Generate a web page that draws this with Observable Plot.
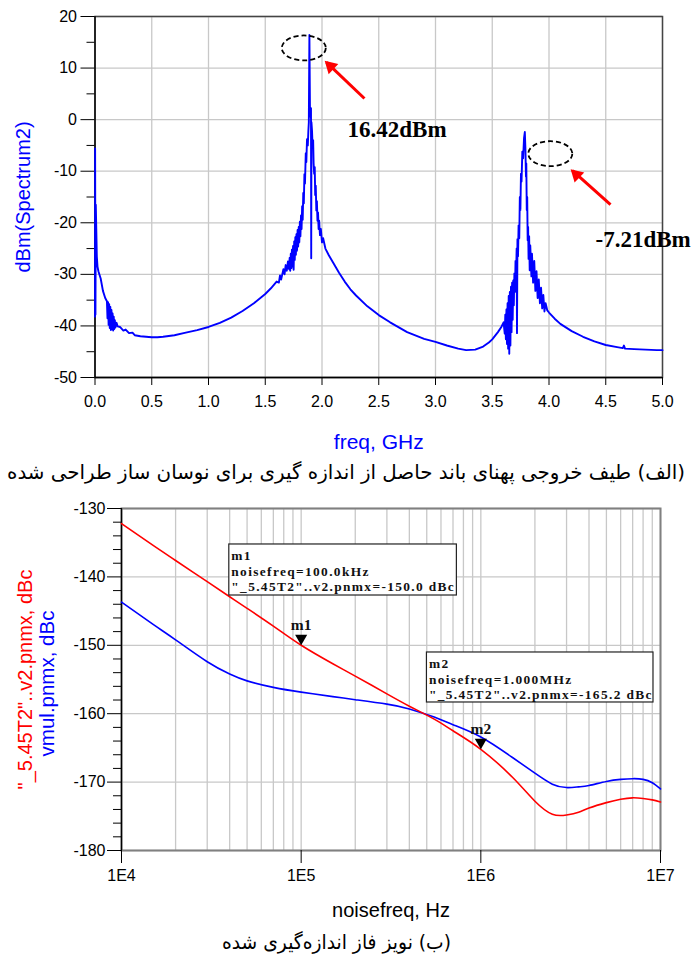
<!DOCTYPE html>
<html>
<head>
<meta charset="utf-8">
<script src="https://cdn.jsdelivr.net/npm/d3@7"></script>
<script src="https://cdn.jsdelivr.net/npm/@observablehq/plot@0.6"></script>
<style>
  body { margin: 0; background: #fff; }
  #page { position: relative; width: 693px; height: 958px; overflow: hidden; background: #fff; }
  .panel { position: absolute; left: 0; }
  .caption { position: absolute; left: 0; width: 693px; text-align: center; direction: rtl;
             font-family: "DejaVu Sans", sans-serif; color: #000; white-space: nowrap; line-height: 24px; font-size: 20px; }
  .caption span { display: inline-block; transform-origin: 50% 50%; }
  /* marker readouts are printed with wide tracking */
  #phase g[font-size="13.4"] { letter-spacing: 1.35px; }
</style>
</head>
<body>
<div id="page">
  <div id="spectrum" class="panel" style="top:0px"></div>
  <div class="caption" id="cap1" style="top:460px" data-width="678"><span>(الف) طیف خروجی پهنای باند حاصل از اندازه گیری برای نوسان ساز طراحی شده</span></div>
  <div id="phase" class="panel" style="top:490px"></div>
  <div class="caption" id="cap2" style="top:930px;left:-10px" data-width="229"><span>(ب) نویز فاز اندازه‌گیری شده</span></div>
</div>
<script>
// ---- Output spectrum (GHz, dBm) ----
const spectrumFreqGHz = [
  0.000, 0.001, 0.004, 0.007, 0.012, 0.016, 0.022, 0.030, 0.050, 0.070, 0.090, 0.105,
  0.110, 0.115, 0.120, 0.125, 0.130, 0.135, 0.140, 0.145, 0.150, 0.155, 0.160, 0.165,
  0.170, 0.175, 0.180, 0.190, 0.200, 0.220, 0.250, 0.270, 0.300, 0.330, 0.350, 0.400,
  0.450, 0.500, 0.550, 0.600, 0.700, 0.800, 0.900, 1.000, 1.100, 1.200, 1.300, 1.400,
  1.500, 1.550, 1.600, 1.620, 1.630, 1.640, 1.650, 1.660, 1.670, 1.680, 1.690, 1.700,
  1.710, 1.715, 1.720, 1.725, 1.730, 1.735, 1.740, 1.745, 1.750, 1.755, 1.760, 1.765,
  1.770, 1.775, 1.780, 1.785, 1.790, 1.795, 1.800, 1.805, 1.810, 1.815, 1.820, 1.825,
  1.830, 1.835, 1.840, 1.845, 1.850, 1.857, 1.862, 1.868, 1.875, 1.880, 1.884, 1.889,
  1.894, 1.899, 1.903, 1.905, 1.907, 1.912, 1.917, 1.922, 1.926, 1.931, 1.936, 1.940,
  1.945, 1.950, 1.955, 1.960, 1.965, 1.970, 1.975, 1.982, 1.990, 2.000, 2.010, 2.030,
  2.060, 2.100, 2.150, 2.200, 2.250, 2.300, 2.400, 2.500, 2.600, 2.750, 2.900, 3.000,
  3.100, 3.200, 3.270, 3.350, 3.420, 3.470, 3.500, 3.550, 3.580, 3.600, 3.610, 3.615,
  3.620, 3.625, 3.630, 3.635, 3.640, 3.645, 3.650, 3.655, 3.660, 3.665, 3.670, 3.675,
  3.680, 3.685, 3.690, 3.695, 3.700, 3.705, 3.710, 3.715, 3.718, 3.722, 3.727, 3.732,
  3.738, 3.743, 3.748, 3.753, 3.758, 3.765, 3.772, 3.780, 3.787, 3.792, 3.797, 3.800,
  3.804, 3.808, 3.812, 3.816, 3.820, 3.825, 3.830, 3.835, 3.845, 3.850, 3.860, 3.870,
  3.880, 3.890, 3.900, 3.910, 3.920, 3.930, 3.940, 3.950, 3.960, 3.970, 3.985, 4.000,
  4.050, 4.100, 4.200, 4.300, 4.400, 4.500, 4.600, 4.650, 4.660, 4.670, 4.750, 4.850,
  4.950, 5.000
];
const spectrumDbm = [
  -38.2, -5.6, -37.8, -16.5, -22.0, -26.5, -28.5, -29.4, -30.8, -33.2, -34.6, -35.2,
  -38.5, -35.4, -39.8, -35.8, -40.4, -36.3, -40.8, -36.9, -40.6, -37.6, -40.9, -38.2,
  -40.6, -38.9, -40.3, -39.4, -40.1, -40.2, -40.9, -40.7, -41.4, -41.3, -41.8, -42.0,
  -42.1, -42.2, -42.2, -42.1, -41.8, -41.3, -40.8, -40.2, -39.4, -38.4, -37.1, -35.6,
  -33.8, -32.7, -31.4, -31.6, -30.2, -31.0, -30.0, -29.0, -30.0, -28.2, -29.3, -27.5,
  -29.0, -26.8, -29.3, -26.0, -28.8, -25.2, -28.5, -24.5, -29.1, -23.6, -27.2, -22.8,
  -26.2, -22.2, -25.4, -21.4, -24.6, -20.8, -23.8, -19.8, -22.6, -18.6, -21.2, -16.8,
  -19.4, -14.2, -16.2, -10.6, -12.4, -6.5, -8.2, -3.8, -5.0, -2.1, -0.5, 16.42,
  1.8, 0.6, 2.2, -26.9, -0.5, -2.1, -5.2, -4.0, -8.4, -10.5, -9.2, -14.6,
  -12.8, -17.6, -15.8, -19.6, -18.0, -21.2, -19.6, -22.4, -21.2, -23.8, -23.0, -25.0,
  -26.3, -27.8, -29.7, -31.4, -32.9, -34.1, -36.2, -37.9, -39.3, -41.2, -42.5, -43.1,
  -43.8, -44.4, -44.7, -44.6, -44.0, -43.2, -42.6, -41.2, -40.2, -39.3, -41.5, -37.8,
  -42.6, -36.8, -43.5, -35.6, -44.4, -34.2, -45.4, -33.4, -43.8, -32.4, -41.2, -31.6,
  -38.8, -31.2, -36.0, -29.8, -33.4, -27.4, -30.2, -25.0, -41.4, -23.2, -26.5, -20.5,
  -23.0, -15.0, -17.5, -10.5, -12.0, -6.2, -7.5, -3.6, -2.4, -5.5, -11.0, -8.5,
  -17.5, -15.0, -23.4, -20.8, -27.0, -22.6, -29.2, -24.4, -30.4, -26.0, -31.6, -27.4,
  -33.2, -29.4, -34.6, -31.0, -35.6, -32.6, -36.6, -34.0, -37.2, -35.6, -37.0, -37.4,
  -38.6, -39.6, -41.0, -42.1, -43.0, -43.7, -44.1, -44.3, -43.8, -44.4, -44.5, -44.6,
  -44.7, -44.7
];
const spectrumXTicks = [0, 0.5, 1, 1.5, 2, 2.5, 3, 3.5, 4, 4.5, 5];
const spectrumYTicks = [-50, -40, -30, -20, -10, 0, 10, 20];
const spectrumYMinor = [-45, -35, -25, -15, -5, 5, 15];

// Peak call-outs: value label, text anchor, arrow tail and arrow tip (GHz, dBm)
const peakLabels = ["16.42dBm", "-7.21dBm"];
const peakLabelFreq = [2.225, 4.41];
const peakLabelDbm = [-2.0, -23.2];
const arrowTailFreq = [2.374, 4.542];
const arrowTailDbm = [4.1, -16.5];
const arrowTipFreq = [2.04, 4.207];
const arrowTipDbm = [11.1, -9.9];
// Dashed rings around the two tones (centre in GHz / dBm)
const ringFreq = [1.844, 4.016];
const ringDbm = [13.8, -6.7];

// ---- Phase noise (Hz, dBc) ----
const noiseFreqHz = [1e4, 1.5e4, 2e4, 3e4, 4e4, 5e4, 7e4, 1e5, 1.5e5, 2e5, 3e5, 4e5, 5.5e5,
                     7e5, 1e6, 1.5e6, 2e6, 2.5e6, 3e6, 3.5e6, 4e6, 5e6, 6e6, 7e6, 8e6, 9e6, 1e7];
const pnmxT2 = [-132.2, -135.4, -137.6, -140.7, -142.9, -144.6, -147.2, -150.0, -152.7, -154.5,
                -157.1, -158.9, -160.8, -162.5, -165.2, -169.3, -172.8, -174.7, -174.8, -174.4,
                -173.8, -173.0, -172.5, -172.3, -172.4, -172.6, -172.9];
const pnmxVmul = [-143.7, -146.95, -149.2, -152.4, -154.2, -155.2, -156.15, -156.85, -157.5, -157.95,
                  -158.6, -159.3, -160.5, -161.6, -163.4, -166.4, -168.7, -170.3, -170.8, -170.7,
                  -170.5, -169.9, -169.6, -169.5, -169.6, -170.1, -171.0];
const noiseXTicks = [1e4, 1e5, 1e6, 1e7];
const noiseYTicks = [-180, -170, -160, -150, -140, -130];
const noiseYMinor = d3.range(-178, -130, 2).filter(v => v % 10 !== 0);
const noiseGridX = [];
for (const decade of [1e4, 1e5, 1e6]) for (let k = 1; k <= 9; k++) noiseGridX.push(k * decade);
noiseGridX.push(1e7);

// Markers m1, m2 and their readout boxes
const markerNames = ["m1", "m2"];
const markerFreq = [1e5, 1e6];
const markerValue = [-150.0, -165.2];
const markerFreqText = ["100.0kHz", "1.000MHz"];
const boxFreq1 = [39811, 501187];
const boxFreq2 = [735640, 9140000];
const boxTop = [-135.26, -151.05];
const boxBottom = [-142.72, -158.36];

// ---------- Spectrum panel ----------
const spectrum = spectrumFreqGHz.map((f, i) => ({f, p: spectrumDbm[i]}));
const callouts = peakLabels.map((t, i) => ({
  t, lf: peakLabelFreq[i], lp: peakLabelDbm[i],
  x1: arrowTailFreq[i], y1: arrowTailDbm[i], x2: arrowTipFreq[i], y2: arrowTipDbm[i]
}));
const gridColor = "#c8c8c8";
const serif = "'Liberation Serif', 'Times New Roman', serif";

const spectrumChart = Plot.plot({
  width: 693, height: 455,
  marginTop: 16, marginLeft: 94.5, marginRight: 31, marginBottom: 78,
  style: {fontFamily: "'Liberation Sans', Arial, sans-serif", fontSize: "16px", color: "#000", background: "#fff", overflow: "visible"},
  x: {domain: [0, 5]},
  y: {domain: [-50, 20]},
  marks: [
    Plot.gridX(spectrumXTicks, {stroke: gridColor, strokeOpacity: 1, strokeWidth: 1.3}),
    Plot.gridY(spectrumYTicks, {stroke: gridColor, strokeOpacity: 1, strokeWidth: 1.3}),
    Plot.frame({stroke: "#444", strokeWidth: 1.5}),
    Plot.ruleX([0], {stroke: "#000", strokeWidth: 1.3}),
    Plot.ruleY([-50], {stroke: "#000", strokeWidth: 1.3}),
    Plot.axisY(spectrumYTicks, {tickSize: 14, tickPadding: 4, tickFormat: d => String(d), fontSize: 16, label: null}),
    Plot.axisY(spectrumYMinor, {tickSize: 8, tickFormat: () => "", label: null}),
    Plot.axisX(spectrumXTicks, {tickSize: 8, tickPadding: 10, tickFormat: d3.format(".1f"), fontSize: 16, label: null}),
    Plot.line(spectrum, {x: "f", y: "p", stroke: "#0000ff", strokeWidth: 1.9}),
    Plot.link(callouts, {x1: "x1", y1: "y1", x2: "x2", y2: "y2", stroke: "#ff0000", strokeWidth: 3}),
    Plot.dot(callouts, {x: "x2", y: "y2", symbol: "triangle", r: 5.2, rotate: -46.5, fill: "#ff0000", stroke: null, dx: 4, dy: 4}),
    Plot.text(callouts, {x: "lf", y: "lp", text: "t", textAnchor: "start", lineAnchor: "middle", fontFamily: serif,
                         fontWeight: "bold", fontSize: 23, fill: "#000"}),
    Plot.text(["dBm(Spectrum2)"], {text: d => d, frameAnchor: "left", textAnchor: "middle", lineAnchor: "middle",
                                   rotate: -90, dx: -71, fill: "#0000ff", fontSize: 20}),
    Plot.text(["freq, GHz"], {text: d => d, frameAnchor: "bottom", textAnchor: "middle", lineAnchor: "middle",
                              dy: 65, fill: "#0000ff", fontSize: 21})
  ]
});
document.getElementById("spectrum").appendChild(spectrumChart);

// dashed rings drawn through the chart's own scales
{
  const sx = spectrumChart.scale("x"), sy = spectrumChart.scale("y");
  d3.select(spectrumChart).append("g").selectAll("ellipse")
    .data(ringFreq.map((f, i) => ({f, p: ringDbm[i]})))
    .join("ellipse")
    .attr("cx", d => sx.apply(d.f)).attr("cy", d => sy.apply(d.p))
    .attr("rx", 22).attr("ry", 12.5)
    .attr("fill", "none").attr("stroke", "#000").attr("stroke-width", 1.8).attr("stroke-dasharray", "5,3");
}

// ---------- Phase-noise panel ----------
const noiseRows = noiseFreqHz.flatMap((f, i) => [
  {f, v: pnmxT2[i], s: "t2"},
  {f, v: pnmxVmul[i], s: "vmul"}
]);
const markers = markerNames.map((m, i) => ({
  m, f: markerFreq[i], v: markerValue[i],
  x1: boxFreq1[i], x2: boxFreq2[i], y1: boxTop[i], y2: boxBottom[i],
  readout: `${m}\nnoisefreq=${markerFreqText[i]}\n"_5.45T2"..v2.pnmx=${markerValue[i].toFixed(1)} dBc`
}));

const phaseChart = Plot.plot({
  width: 693, height: 440,
  marginTop: 18, marginLeft: 121, marginRight: 33, marginBottom: 80,
  style: {fontFamily: "'Liberation Sans', Arial, sans-serif", fontSize: "16px", color: "#000", background: "#fff", overflow: "visible"},
  x: {type: "log", domain: [1e4, 1e7]},
  y: {domain: [-180, -130]},
  marks: [
    Plot.gridX(noiseGridX, {stroke: gridColor, strokeOpacity: 1, strokeWidth: 1.3}),
    Plot.gridY(noiseYTicks, {stroke: gridColor, strokeOpacity: 1, strokeWidth: 1.3}),
    Plot.frame({stroke: "#808080", strokeWidth: 2}),
    Plot.ruleX([1e4], {stroke: "#000", strokeWidth: 1.3}),
    Plot.axisY(noiseYTicks, {tickSize: 14, tickPadding: 2, tickFormat: d => String(d), fontSize: 16, label: null}),
    Plot.axisY(noiseYMinor, {tickSize: 8, tickFormat: () => "", label: null}),
    Plot.axisX(noiseXTicks, {tickSize: 13, tickPadding: 6, tickFormat: d => "1E" + Math.round(Math.log10(d)), fontSize: 16, label: null}),
    Plot.line(noiseRows.filter(d => d.s === "vmul"), {x: "f", y: "v", stroke: "#0000ff", strokeWidth: 1.6, curve: "natural"}),
    Plot.line(noiseRows.filter(d => d.s === "t2"), {x: "f", y: "v", stroke: "#ff0000", strokeWidth: 1.6, curve: "natural"}),
    Plot.rect(markers, {x1: "x1", x2: "x2", y1: "y1", y2: "y2", fill: "#fff", stroke: "#222", strokeWidth: 1.2}),
    Plot.text(markers, {x: "x1", y: "y1", text: "readout", textAnchor: "start", lineAnchor: "top", dx: 2, dy: 4.5,
                        lineHeight: 1.16, fontFamily: serif, fontWeight: "bold",
                        fontSize: 13.4, fill: "#111"}),
    Plot.dot(markers, {x: "f", y: "v", symbol: "triangle", rotate: 180, r: 4.5, fill: "#000", stroke: null, dy: -7}),
    Plot.text(markers, {x: "f", y: "v", text: "m", dy: -20, fontFamily: serif,
                        fontWeight: "bold", fontSize: 15.5, fill: "#111"}),
    Plot.text(['"_5.45T2"..v2.pnmx, dBc'], {text: d => d, frameAnchor: "left", textAnchor: "middle", lineAnchor: "middle",
                                          rotate: -90, dx: -96, fill: "#ff0000", fontSize: 20}),
    Plot.text(["vmul.pnmx, dBc"], {text: d => d, frameAnchor: "left", textAnchor: "middle", lineAnchor: "middle",
                                   rotate: -90, dx: -74.5, dy: 4, fill: "#0000ff", fontSize: 20.5}),
    Plot.text(["noisefreq, Hz"], {text: d => d, frameAnchor: "bottom", textAnchor: "middle", lineAnchor: "middle",
                                  dy: 60, fill: "#000", fontSize: 20})
  ]
});
document.getElementById("phase").appendChild(phaseChart);

// stretch each caption line to its printed width
for (const cap of document.querySelectorAll(".caption")) {
  const span = cap.querySelector("span");
  const w = span.getBoundingClientRect().width;
  span.style.transform = `scaleX(${(+cap.dataset.width / w).toFixed(3)})`;
}
</script>
</body>
</html>
